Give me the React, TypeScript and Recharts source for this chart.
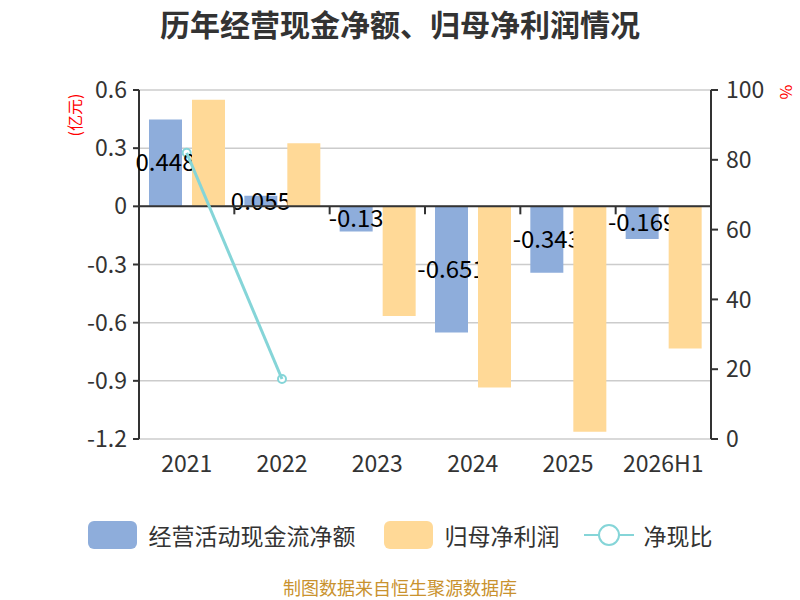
import { ComposedChart, Bar, Line, XAxis, YAxis, CartesianGrid, ReferenceLine, LabelList } from "recharts";

const years = ["2021", "2022", "2023", "2024", "2025", "2026H1"];
const cashFlow = [0.448, 0.055, -0.13, -0.651, -0.343, -0.169];
const netProfit = [0.55, 0.325, -0.566, -0.935, -1.162, -0.733];
const cashRatio: (number | null)[] = [82, 17.2, null, null, null, null];
const leftTicks = [0.6, 0.3, 0, -0.3, -0.6, -0.9, -1.2];
const rightTicks = [0, 20, 40, 60, 80, 100];

const data = years.map((year, i) => ({
  year,
  cashFlow: cashFlow[i],
  netProfit: netProfit[i],
  ratio: cashRatio[i],
}));

const FONT = '"Noto Sans CJK SC", "Noto Sans", sans-serif';
const BLUE = "#8EADDB";
const ORANGE = "#FFD997";
const CYAN = "#85D5D8";

// zero line acts as the category axis, ticks sit between categories
const ZeroAxis = (props: any) => {
  const { x1, y1, x2, y2 } = props;
  const step = (x2 - x1) / years.length;
  return (
    <g>
      <line x1={x1} y1={y1} x2={x2} y2={y2} stroke="#333" strokeWidth={2} />
      {years.slice(1).map((_, i) => {
        const x = x1 + step * (i + 1);
        return <line key={i} x1={x} x2={x} y1={y1} y2={y1 + 8} stroke="#333" strokeWidth={2} />;
      })}
    </g>
  );
};

export default function App() {
  return (
    <div style={{ position: "absolute", left: 0, top: 0, width: 800, height: 600, fontFamily: FONT, background: "#fff" }}>
      <div style={{ position: "absolute", top: 1, left: 0, width: 800, textAlign: "center", fontSize: 30, fontWeight: 700, color: "#333" }}>
        历年经营现金净额、归母净利润情况
      </div>
      <div style={{ position: "absolute", left: 53, top: 103, fontSize: 16, color: "#f00", transform: "rotate(-90deg)", whiteSpace: "nowrap" }}>
        (亿元)
      </div>
      <div style={{ position: "absolute", left: 780, top: 80, fontSize: 16, color: "#f00", transform: "rotate(90deg)" }}>
        %
      </div>
      <ComposedChart
        width={800}
        height={600}
        data={data}
        margin={{ top: 90, right: 0, left: 0, bottom: 0 }}
        barSize={33}
        barGap={10}
        style={{ fontFamily: FONT }}
      >
        <CartesianGrid yAxisId="left" vertical={false} stroke="#ccc" strokeWidth={1.5} />
        <XAxis
          dataKey="year"
          height={161}
          axisLine={false}
          tickLine={false}
          tickSize={0}
          tickMargin={17}
          tick={{ fontSize: 23, fill: "#333" }}
        />
        <YAxis
          yAxisId="left"
          width={139}
          domain={[-1.2, 0.6]}
          ticks={leftTicks}
          interval={0}
          axisLine={{ stroke: "#333", strokeWidth: 2 }}
          tickLine={{ stroke: "#333", strokeWidth: 2 }}
          tickSize={6}
          tickMargin={6}
          tick={{ fontSize: 23, fill: "#333" }}
        />
        <YAxis
          yAxisId="right"
          orientation="right"
          width={89}
          domain={[0, 100]}
          ticks={rightTicks}
          interval={0}
          axisLine={{ stroke: "#333", strokeWidth: 2 }}
          tickLine={{ stroke: "#333", strokeWidth: 2 }}
          tickSize={7}
          tickMargin={8}
          tick={{ fontSize: 23, fill: "#333" }}
        />
        <Bar yAxisId="left" dataKey="cashFlow" fill={BLUE} isAnimationActive={false}>
          <LabelList dataKey="cashFlow" position="center" fill="#000" fontSize={24} />
        </Bar>
        <Bar yAxisId="left" dataKey="netProfit" fill={ORANGE} isAnimationActive={false} zIndex={2100} />
        <ReferenceLine yAxisId="left" y={0} shape={ZeroAxis} zIndex={2200} />
        <Line
          yAxisId="right"
          dataKey="ratio"
          stroke={CYAN}
          strokeWidth={3}
          dot={{ r: 4, fill: "#fff", stroke: CYAN, strokeWidth: 2 }}
          isAnimationActive={false}
          zIndex={2300}
        />
      </ComposedChart>
      <div style={{ position: "absolute", top: 518, left: 0, width: 800, display: "flex", justifyContent: "center", alignItems: "center", fontSize: 23, color: "#333" }}>
        <span style={{ width: 49, height: 28, borderRadius: 6, background: BLUE, marginRight: 12 }} />
        <span style={{ marginRight: 28 }}>经营活动现金流净额</span>
        <span style={{ width: 49, height: 28, borderRadius: 6, background: ORANGE, marginRight: 12 }} />
        <span style={{ marginRight: 24 }}>归母净利润</span>
        <svg width={50} height={28} style={{ marginRight: 10 }}>
          <line x1={0} y1={14} x2={50} y2={14} stroke={CYAN} strokeWidth={2} />
          <circle cx={25} cy={14} r={10} fill="#fff" stroke={CYAN} strokeWidth={2} />
        </svg>
        <span>净现比</span>
      </div>
      <div style={{ position: "absolute", top: 576, left: 0, width: 800, textAlign: "center", fontSize: 18, lineHeight: "22px", color: "#C9922E" }}>
        制图数据来自恒生聚源数据库
      </div>
    </div>
  );
}
